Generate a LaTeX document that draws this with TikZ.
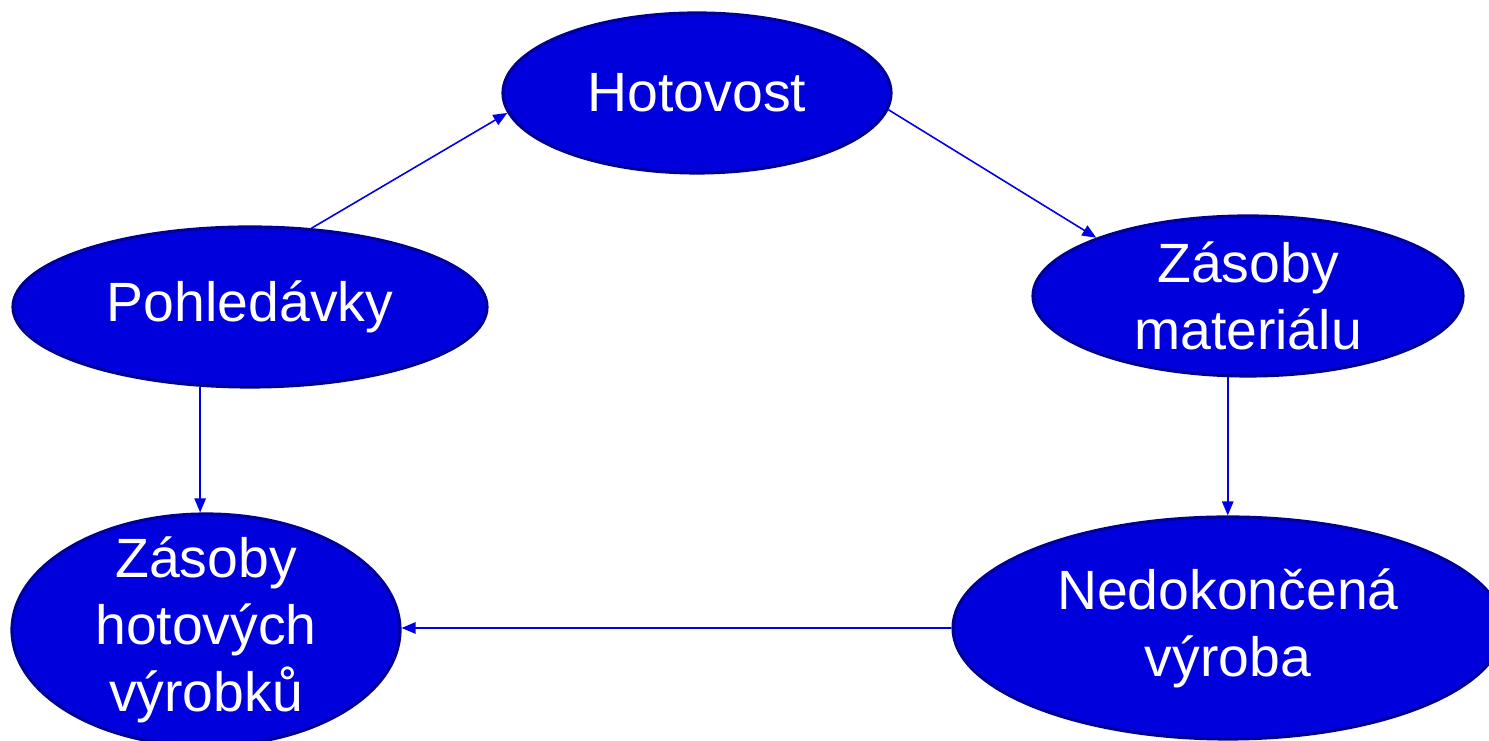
\documentclass[tikz,border=0pt]{standalone}
\usepackage{fontspec}
\setmainfont{Liberation Sans}
\usetikzlibrary{shapes.geometric,arrows.meta}
\definecolor{blobfill}{HTML}{0000DD}
\definecolor{blobline}{HTML}{000099}
\definecolor{flowline}{HTML}{0000E6}
\begin{document}
\begin{tikzpicture}[scale=1]
\tikzstyle{blob}=[draw=blobline,line width=1.8pt,ellipse,fill=blobfill,inner sep=0pt]
\tikzstyle{blobtext}=[text=white,align=center,inner sep=0pt,font=\fontsize{31.5}{38}\selectfont]
\tikzstyle{flow}=[draw=flowline,line width=0.9pt,-{Triangle[length=8pt,width=6.5pt]}]
\useasboundingbox (0,0) rectangle (29.78,14.82);
\clip (0,0) rectangle (29.78,14.82);
\node[blob,minimum width=7.76cm,minimum height=3.2cm,label={[blobtext]center:Hotovost}] (hot) at (13.94,12.96) {};
\node[blob,minimum width=8.6cm,minimum height=3.2cm,label={[blobtext]center:Zásoby\\materiálu}] (zm) at (24.96,8.90) {};
\node[blob,minimum width=9.48cm,minimum height=3.2cm,label={[blobtext]center:Pohledávky}] (pohl) at (5.0,8.68) {};
\node[blob,minimum width=7.76cm,minimum height=4.64cm,label={[blobtext]center:Zásoby\\hotových\\výrobků}] (zh) at (4.12,2.22) {};
\node[blob,minimum width=11.0cm,minimum height=4.44cm,label={[blobtext]center:Nedokončená\\výroba}] (ned) at (24.56,2.26) {};
\draw[flow] (pohl.52) -- (hot.186);
\draw[flow] (hot.355) -- (zm.159);
\draw[flow] (zm.256) -- (zm.256 |- ned.north);
\draw[flow] (ned.west) -- (ned.west -| zh.east);
\draw[flow] (pohl.238) -- (pohl.238 |- zh.north);
\end{tikzpicture}
\end{document}
